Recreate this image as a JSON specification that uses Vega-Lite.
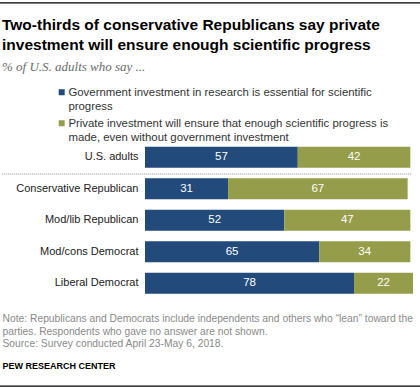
{
  "$schema": "https://vega.github.io/schema/vega-lite/v6.json",
  "autosize": {"type": "none"},
  "width": 268,
  "height": 157.5,
  "padding": {"left": 145, "top": 141.45, "right": 7, "bottom": 89.05},
  "background": "white",
  "config": {"view": {"stroke": null}},
  "title": {
    "text": ["Two-thirds of conservative Republicans say private", "investment will ensure enough scientific progress"],
    "subtitle": "% of U.S. adults who say ...",
    "anchor": "start",
    "frame": "group",
    "dx": -143,
    "offset": -71.5,
    "font": "Liberation Sans",
    "fontSize": 15.5,
    "fontWeight": "bold",
    "color": "#000000",
    "lineHeight": 20,
    "subtitleFont": "Liberation Serif",
    "subtitleFontStyle": "italic",
    "subtitleFontSize": 13,
    "subtitleColor": "#6b6b6b",
    "subtitlePadding": 7.5
  },
  "data": {"values": [
    {"group": "U.S. adults", "answer": "Government investment in research is essential for scientific progress", "value": 57},
    {"group": "U.S. adults", "answer": "Private investment will ensure that enough scientific progress is made, even without government investment", "value": 42},
    {"group": "Conservative Republican", "answer": "Government investment in research is essential for scientific progress", "value": 31},
    {"group": "Conservative Republican", "answer": "Private investment will ensure that enough scientific progress is made, even without government investment", "value": 67},
    {"group": "Mod/lib Republican", "answer": "Government investment in research is essential for scientific progress", "value": 52},
    {"group": "Mod/lib Republican", "answer": "Private investment will ensure that enough scientific progress is made, even without government investment", "value": 47},
    {"group": "Mod/cons Democrat", "answer": "Government investment in research is essential for scientific progress", "value": 65},
    {"group": "Mod/cons Democrat", "answer": "Private investment will ensure that enough scientific progress is made, even without government investment", "value": 34},
    {"group": "Liberal Democrat", "answer": "Government investment in research is essential for scientific progress", "value": 78},
    {"group": "Liberal Democrat", "answer": "Private investment will ensure that enough scientific progress is made, even without government investment", "value": 22}
  ]},
  "encoding": {
    "y": {
      "field": "group",
      "type": "nominal",
      "sort": ["U.S. adults", "Conservative Republican", "Mod/lib Republican", "Mod/cons Democrat", "Liberal Democrat"],
      "scale": {"paddingInner": 0.3333, "paddingOuter": 0.1667},
      "axis": {
        "title": "PEW RESEARCH CENTER",
        "titleAngle": 0,
        "titleAlign": "left",
        "titleBaseline": "alphabetic",
        "titleX": -143,
        "titleY": 227,
        "titleFont": "Liberation Sans",
        "titleFontSize": 9,
        "titleFontWeight": "bold",
        "titleColor": "#000000",
        "labelFont": "Liberation Sans",
        "labelFontSize": 11,
        "labelColor": "#222222",
        "labelPadding": 7,
        "labelLimit": 200,
        "ticks": false,
        "domain": false,
        "grid": false
      }
    }
  },
  "layer": [
    {
      "mark": {"type": "bar"},
      "encoding": {
        "x": {
          "field": "value",
          "type": "quantitative",
          "stack": "zero",
          "scale": {"domain": [0, 100], "nice": false},
          "axis": {
            "title": ["Note: Republicans and Democrats include independents and others who “lean” toward the", "parties. Respondents who gave no answer are not shown.", "Source: Survey conducted April 23-May 6, 2018."],
            "titleX": -143,
            "titleY": 23,
            "titleAlign": "left",
            "titleBaseline": "alphabetic",
            "titleFont": "Liberation Sans",
            "titleFontSize": 10.3,
            "titleFontWeight": "normal",
            "titleColor": "#8a8a8a",
            "titleLineHeight": 12.4,
            "labels": false,
            "ticks": false,
            "domain": false,
            "grid": false
          }
        },
        "color": {
          "field": "answer",
          "type": "nominal",
          "scale": {
            "domain": ["Government investment in research is essential for scientific progress", "Private investment will ensure that enough scientific progress is made, even without government investment"],
            "range": ["#224a7b", "#959c4a"]
          },
          "legend": {
            "orient": "none",
            "legendX": -89,
            "legendY": -51,
            "direction": "vertical",
            "title": null,
            "padding": 0,
            "labelExpr": "datum.label == 'Government investment in research is essential for scientific progress' ? ['Government investment in research is essential for scientific', 'progress'] : ['Private investment will ensure that enough scientific progress is', 'made, even without government investment']",
            "labelFont": "Liberation Sans",
            "labelFontSize": 11.4,
            "labelColor": "#333333",
            "labelBaseline": "alphabetic",
            "labelLimit": 400,
            "labelOffset": 1,
            "symbolType": "M-1,-2.3H1V-0.3H-1Z",
            "symbolSize": 36,
            "symbolStrokeWidth": 0,
            "rowPadding": 5
          }
        },
        "order": {"field": "answer", "sort": "ascending"}
      }
    },
    {
      "mark": {"type": "text", "color": "white", "font": "Liberation Sans", "fontSize": 11.5, "baseline": "middle"},
      "encoding": {
        "x": {"field": "value", "type": "quantitative", "stack": "zero", "bandPosition": 0.5},
        "detail": {"field": "answer"},
        "order": {"field": "answer", "sort": "ascending"},
        "text": {"field": "value", "type": "quantitative"}
      }
    },
    {
      "data": {"values": [{"line": "separator"}]},
      "mark": {"type": "rule", "color": "#8c8c8c", "strokeWidth": 1, "strokeDash": [1, 1]},
      "encoding": {
        "x": {"datum": -53.3, "type": "quantitative"},
        "x2": {"datum": 99.4},
        "y": {"datum": "U.S. adults", "type": "nominal", "bandPosition": 1.3}
      }
    },
    {
      "data": {"values": [{"line": "top"}]},
      "mark": {"type": "rule", "color": "#000000", "strokeWidth": 1.2},
      "encoding": {
        "x": {"datum": -54.1, "type": "quantitative"},
        "x2": {"datum": 102.7},
        "y": {"datum": "U.S. adults", "type": "nominal", "bandPosition": -6.85}
      }
    },
    {
      "data": {"values": [{"line": "bottom"}]},
      "mark": {"type": "rule", "color": "#000000", "strokeWidth": 1.2},
      "encoding": {
        "x": {"datum": -54.1, "type": "quantitative"},
        "x2": {"datum": 102.7},
        "y": {"datum": "U.S. adults", "type": "nominal", "bandPosition": 11.4}
      }
    }
  ]
}
